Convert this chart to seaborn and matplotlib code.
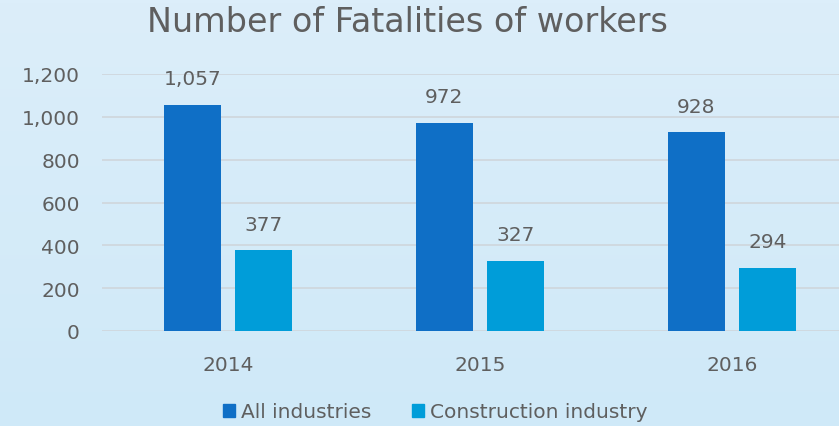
import numpy as np
import pandas as pd
import seaborn as sns
import matplotlib.pyplot as plt
from matplotlib.colors import LinearSegmentedColormap
from matplotlib.patches import Patch

years = ['2014', '2015', '2016']
series = ['All industries', 'Construction industry']
all_industries = [1057, 972, 928]
construction = [377, 327, 294]
yticks = [0, 200, 400, 600, 800, 1000, 1200]

pal = ['#0f6fc6', '#009dd9']
text_col = '#5f5f5f'
bg = '#d5ebf9'

sns.set_theme(style='white')
plt.rcParams['font.family'] = ['DejaVu Sans']

df = pd.DataFrame({
    'year': years * 2,
    'series': [series[0]] * 3 + [series[1]] * 3,
    'value': all_industries + construction,
})

fig = plt.figure(figsize=(8.39, 4.27), dpi=100, facecolor=bg)

# soft vertical gradient behind everything
bg_ax = fig.add_axes([0, 0, 1, 1], zorder=-1)
grad = LinearSegmentedColormap.from_list('bg', ['#dceefa', '#cfe9f8'])
bg_ax.imshow(np.linspace(0, 1, 100).reshape(-1, 1), aspect='auto', cmap=grad,
             extent=[0, 1, 0, 1])
bg_ax.axis('off')

ax = fig.add_axes([102 / 839, 1 - 332 / 427, 756 / 839, 257 / 427])
ax.set_facecolor('none')

sns.barplot(data=df, x='year', y='value', hue='series', palette=pal,
            width=0.565, gap=0.2, ax=ax, saturation=1, edgecolor='none')

for cont in ax.containers:
    for bar in cont:
        h = bar.get_height()
        ax.annotate(f'{h:,.0f}', (bar.get_x() + bar.get_width() / 2, h),
                    xytext=(0, 12), textcoords='offset points',
                    ha='center', va='bottom', fontsize=14.5, color=text_col)

ax.set_ylim(0, 1200)
ax.set_xlim(-0.5, 2.5)
ax.set_yticks(yticks)
ax.set_yticklabels([f'{t:,}' for t in yticks])
ax.yaxis.grid(True, color='#cfd6dc', linewidth=1.2)
ax.set_axisbelow(True)
sns.despine(ax=ax, left=True, bottom=True, top=True, right=True)
ax.tick_params(axis='y', length=0, pad=16, labelsize=14.5, labelcolor=text_col)
ax.tick_params(axis='x', length=0, pad=17, labelsize=14.5, labelcolor=text_col)
ax.set_xlabel('')
ax.set_ylabel('')

ax.get_legend().remove()
handles = [Patch(color=c) for c in pal]
fig.legend(handles, series, loc='center', bbox_to_anchor=(435 / 839, 1 - 413 / 427),
           ncol=2, frameon=False, fontsize=14.5, labelcolor=text_col,
           handlelength=0.6, handleheight=0.6, handletextpad=0.3, columnspacing=2.0)

fig.text(407 / 839, 1 - 23 / 427, 'Number of Fatalities of workers', ha='center',
         va='center', fontsize=24, color=text_col)

fig.savefig('out.png', dpi=100, facecolor=bg)
